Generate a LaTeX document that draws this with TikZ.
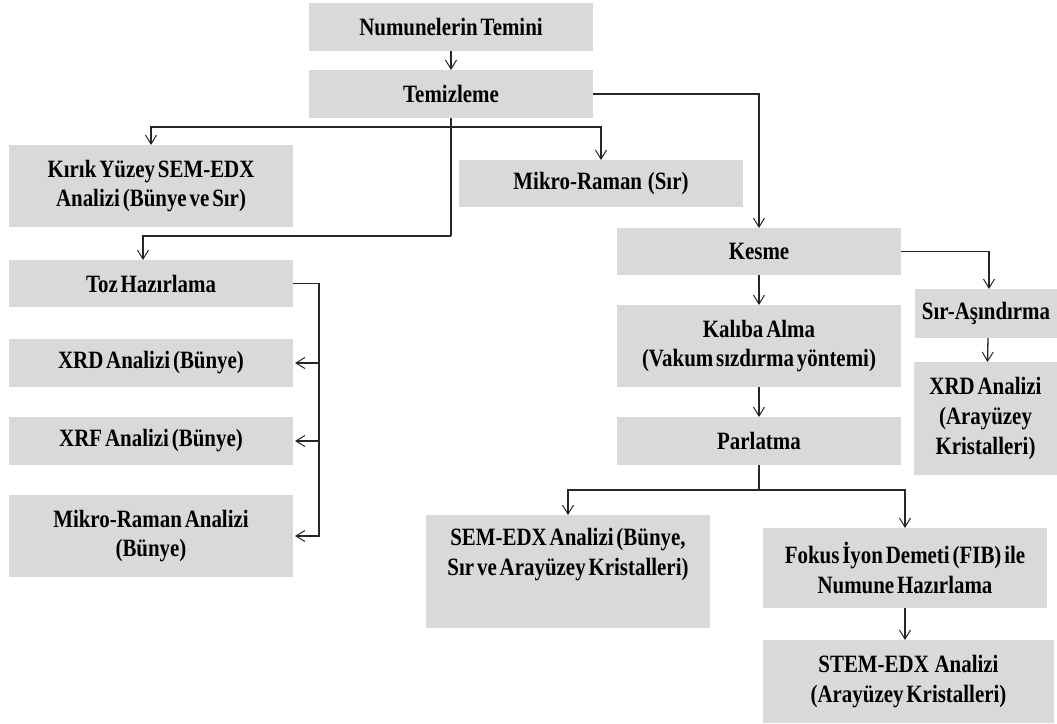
\documentclass[tikz,border=0pt]{standalone}
\usepackage{fontspec}
\setmainfont{Liberation Serif}[FakeStretch=0.84,WordSpace=0.55]
\usetikzlibrary{arrows.meta}
\definecolor{boxgray}{RGB}{217,217,217}
\tikzset{
  box/.style={fill=boxgray, draw=none, inner sep=0pt, outer sep=0pt, align=center,
    font=\bfseries\fontsize{25}{30}\selectfont},
  conn/.style={draw=black!85, line width=1.3bp},
  arr/.style={conn, -{Straight Barb[length=9bp,width=11bp,line width=1bp]}},
}
\newcommand\bx[6]{\node[box, minimum width={(#4-#2)*1bp}, minimum height={(#5-#3)*1bp}]
  (#1) at ({(#2+#4)/2},{(#3+#5)/2}) {#6};}
\begin{document}
\begin{tikzpicture}[x=1bp,y=-1bp]
\useasboundingbox (0,0) rectangle (1057,724);
\bx{numune}{309}{3}{593}{51}{Numunelerin Temini}
\bx{temiz}{309}{70}{593}{118}{Temizleme}
\bx{kirik}{9}{145}{293}{227}{Kırık Yüzey SEM-EDX\\Analizi (Bünye ve Sır)}
\bx{mrsir}{459}{160}{743}{207}{Mikro-Raman\ \ (Sır)}
\bx{toz}{9}{260}{293}{307}{Toz Hazırlama}
\bx{xrda}{9}{339}{293}{387}{XRD Analizi (Bünye)}
\bx{xrf}{9}{417}{293}{465}{XRF Analizi (Bünye)}
\bx{mrb}{9}{495}{293}{577}{Mikro-Raman Analizi\\(Bünye)}
\bx{kesme}{617}{228}{901}{275}{Kesme}
\bx{kaliba}{617}{305}{901}{387}{Kalıba Alma\\(Vakum sızdırma yöntemi)}
\bx{parl}{617}{417}{901}{465}{Parlatma}
\bx{sir}{915}{289}{1057}{338}{Sır-Aşındırma}
\bx{xrdb}{914}{362}{1057}{475}{XRD Analizi\\(Arayüzey\\Kristalleri)}
\bx{sem}{426}{515}{710}{628}{SEM-EDX Analizi (Bünye,\\Sır ve Arayüzey Kristalleri)\\\strut}
\bx{fib}{763}{528}{1047}{608}{Fokus İyon Demeti (FIB) ile\\Numune Hazırlama}
\bx{stem}{763}{640}{1054}{723}{STEM-EDX\ \ Analizi\\(Arayüzey Kristalleri)}

\draw[arr] (numune.south) -- (temiz.north);
\coordinate (jt) at (temiz.south |- 0,127);
\coordinate (jb) at (temiz.south |- 0,236);
\draw[conn] (temiz.south) -- (jb);
\draw[arr] (jb) -| ([xshift=-8bp]toz.north);
\draw[arr] (jt) -| (kirik.north);
\draw[arr] (jt) -| (mrsir.north);
\draw[arr] (temiz.east) -| (kesme.north);
\draw[arr] (kesme.south) -- (kaliba.north);
\draw[arr] (kesme.east) -| ([xshift=3bp]sir.north);
\draw[arr] ([xshift=2bp]sir.south) -- ([xshift=2bp]xrdb.north);
\draw[arr] (kaliba.south) -- (parl.north);
\coordinate (jp) at (parl.south |- 0,490);
\draw[conn] (parl.south) -- (jp);
\draw[arr] (jp) -| (sem.north);
\draw[arr] (jp) -| (fib.north);
\draw[arr] (fib.south) -- (fib.south |- stem.north);
\coordinate (tb) at (toz.east -| 319,0);
\draw[arr] (toz.east) -- (tb) |- ([xshift=2bp]mrb.east);
\draw[arr] (tb |- xrda.east) -- ([xshift=2bp]xrda.east);
\draw[arr] (tb |- xrf.east) -- ([xshift=2bp]xrf.east);
\end{tikzpicture}
\end{document}
